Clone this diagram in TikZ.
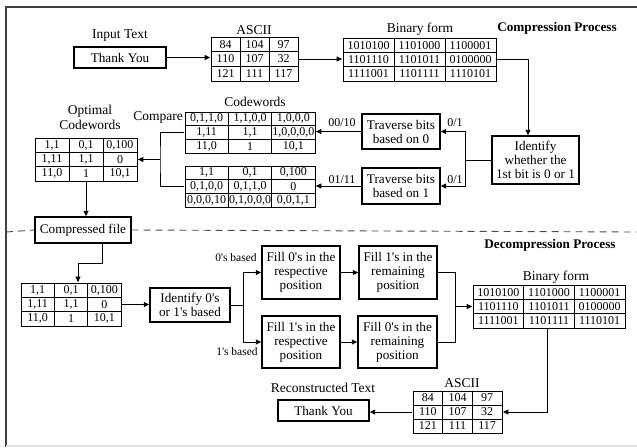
\documentclass[tikz,border=0pt]{standalone}
\usepackage{fontspec}
\setmainfont{Liberation Serif}[Ligatures=TeXOff]
\usetikzlibrary{arrows.meta,matrix}
\begin{document}
\begin{tikzpicture}[x=1pt,y=-1pt,
  line width=1pt,
  lbl/.style={font=\fontsize{13.5}{15}\selectfont, inner sep=0pt, align=center},
  sml/.style={font=\fontsize{12}{13}\selectfont, inner sep=0pt},
  box/.style={draw, line width=1.4pt, inner sep=0pt, align=center, font=\fontsize{13.2}{14}\selectfont},
  ttl/.style={font=\fontsize{13.2}{15}\selectfont\bfseries, inner sep=0pt},
  tbl/.style={matrix of nodes, inner sep=0pt, column sep=-0.8pt, row sep=-0.8pt,
    nodes={draw, line width=0.8pt, inner sep=0pt, anchor=center, font=\fontsize{12}{13}\selectfont}},
  cellsz/.style 2 args={nodes={minimum width=#1, minimum height=#2}},
  arr/.style={-{Triangle[length=5.5pt,width=5pt]}},
]
\useasboundingbox (0,0) rectangle (637,447);
\draw[line width=1.5pt, black!75] (6,447) -- (6,7) -- (637,7);
\draw[line width=1.5pt, black!12] (6,446) -- (637,446);

% ---------- compression ----------
\node[lbl] (lInput) at (120,36) {Input Text};
\node[box, minimum width=92, minimum height=21] (thank1) at (120,57.5) {Thank You};
\node[lbl] (lAscii1) at (254,30) {ASCII};
\matrix (ascii1) [tbl, cellsz={29}{14.67}] at (254.5,59) {
84 & 104 & 97 \\ 110 & 107 & 32 \\ 121 & 111 & 117 \\};
\node[lbl] (lBin1) at (420,29) {Binary form};
\matrix (bin1) [tbl, cellsz={51}{14.33}] at (419.5,59.5) {
1010100 & 1101000 & 1100001 \\ 1101110 & 1101011 & 0100000 \\ 1111001 & 1101111 & 1110101 \\};
\node[ttl] (tComp) at (557,28) {Compression Process};

\node[box, minimum width=87, minimum height=48] (ident) at (535.5,160) {Identify\\whether the\\1st bit is 0 or 1};
\node[box, minimum width=78, minimum height=35] (trav0) at (401,131.5) {Traverse bits\\based on 0};
\node[box, minimum width=78, minimum height=36] (trav1) at (401,186) {Traverse bits\\based on 1};

\node[lbl] (lCw) at (255,102) {Codewords};
\node[lbl] (lCmp) at (158,117) {Compare};
\matrix (cw1) [tbl, cellsz={43.3}{13.67}] at (250,132.5) {
0,1,1,0 & 1,1,0,0 & 1,0,0,0 \\ 1,11 & 1,1 & 1,0,0,0,0 \\ 11,0 & 1 & 10,1 \\};
\matrix (cw2) [tbl, cellsz={43.3}{13.67}] at (250,186.5) {
1,1 & 0,1 & 0,100 \\ 0,1,0,0 & 0,1,1,0 & 0 \\ 0,0,0,10 & 0,1,0,0,0 & 0,0,1,1 \\};

\node[lbl] (lOpt) at (90,117.5) {Optimal\\Codewords};
\matrix (opt) [tbl, cellsz={34}{14.33}] at (86,159.5) {
1,1 & 0,1 & 0,100 \\ 1,11 & 1,1 & 0 \\ 11,0 & 1 & 10,1 \\};
\node[box, minimum width=96, minimum height=26] (cfile) at (83,230) {Compressed file};

\draw[line width=0.9pt, black!70, dash pattern=on 7pt off 5pt] (6,232) -- (cfile.west);
\draw[line width=0.9pt, black!70, dash pattern=on 7pt off 5pt] (cfile.east) -- (637,232);

% connectors (compression)
\draw[arr] (thank1.east) -- (thank1.east -| ascii1.west);
\draw[arr] (ascii1.east) -- (ascii1.east -| bin1.west);
\draw[arr] (bin1.east) -| ([xshift=-7.5pt]ident.north);
\draw (ident.west) -- ++(-26,0) coordinate (split1);
\draw[arr] (split1) |- (trav0.east);
\draw[arr] (split1) |- (trav1.east);
\node[sml] (l01a) at (455,123) {0/1};
\node[sml] (l01b) at (455,180) {0/1};
\draw[arr] (trav0.west) -- (trav0.west -| cw1.east);
\draw[arr] (trav1.west) -- (trav1.west -| cw2.east);
\node[sml] (l0010) at (342,123) {00/10};
\node[sml] (l0111) at (342,180) {01/11};
\coordinate (cmpx) at (160,159.5);
\draw (cw1.west) -| (cmpx) |- (cw2.west);
\draw[arr] (cmpx) -- (opt.east);
\draw[arr] (opt.south) -- (opt.south |- cfile.north);

% ---------- decompression ----------
\matrix (tbl3) [tbl, cellsz={33.3}{14.33}] at (71,304.5) {
1,1 & 0,1 & 0,100 \\ 1,11 & 1,1 & 0 \\ 11,0 & 1 & 10,1 \\};
\node[box, minimum width=80, minimum height=34] (ident2) at (190,305) {Identify 0's\\or 1's based};
\node[box, minimum width=78, minimum height=53] (f0resp) at (301,272.5) {Fill 0's in the\\respective\\position};
\node[box, minimum width=78, minimum height=53] (f1rem) at (398,272.5) {Fill 1's in the\\remaining\\position};
\node[box, minimum width=78, minimum height=52] (f1resp) at (301,342) {Fill 1's in the\\respective\\position};
\node[box, minimum width=79, minimum height=52] (f0rem) at (397.5,342) {Fill 0's in the\\remaining\\position};
\node[sml, font=\fontsize{11.5}{13}\selectfont] (l0b) at (236,258) {0's based};
\node[sml, font=\fontsize{11.5}{13}\selectfont] (l1b) at (237,352) {1's based};
\node[ttl] (tDec) at (550,245) {Decompression Process};
\node[lbl] (lBin2) at (556,277) {Binary form};
\matrix (bin2) [tbl, cellsz={50.67}{14.33}] at (549,306.5) {
1010100 & 1101000 & 1100001 \\ 1101110 & 1101011 & 0100000 \\ 1111001 & 1101111 & 1110101 \\};
\node[lbl] (lAscii2) at (462,383) {ASCII};
\matrix (ascii2) [tbl, cellsz={29.67}{14}] at (457.5,412) {
84 & 104 & 97 \\ 110 & 107 & 32 \\ 121 & 111 & 117 \\};
\node[lbl] (lRec) at (323,388) {Reconstructed Text};
\node[box, minimum width=91, minimum height=21] (thank2) at (323.5,410.5) {Thank You};

% connectors (decompression)
\draw[arr] ([xshift=19pt]cfile.south) -- ++(0,20) -| ([xshift=7pt]tbl3.north);
\draw[arr] (tbl3.east) -- (tbl3.east -| ident2.west);
\draw (ident2.east) -- ++(13,0) coordinate (split2);
\draw[arr] (split2) |- (f0resp.west);
\draw[arr] (split2) |- (f1resp.west);
\draw[arr] (f0resp.east) -- (f0resp.east -| f1rem.west);
\draw[arr] (f1resp.east) -- (f1resp.east -| f0rem.west);
\coordinate (join) at (455,306.5);
\draw (f1rem.east) -| (join);
\draw (f0rem.east) -| (join);
\draw[arr] (join) -- (bin2.west);
\draw[arr] ([xshift=-2pt]bin2.south) |- (ascii2.east);
\draw[arr] (ascii2.west) -- (ascii2.west -| thank2.east);
\end{tikzpicture}
\end{document}
